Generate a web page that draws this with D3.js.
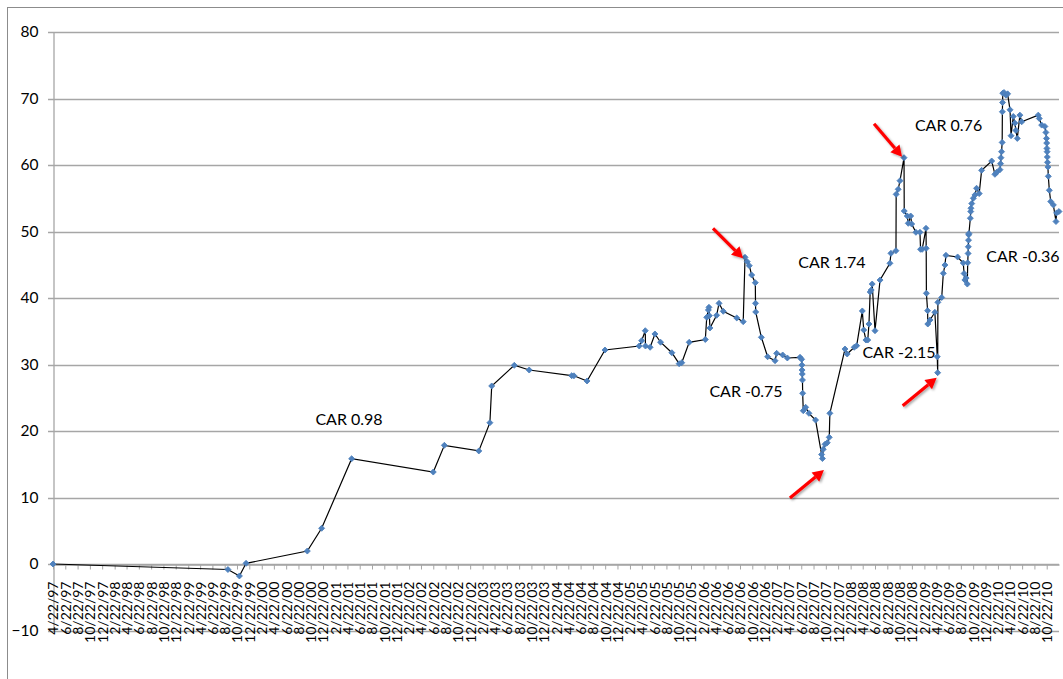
<!DOCTYPE html>
<html><head><meta charset="utf-8">
<script src="https://cdn.jsdelivr.net/npm/d3@7"></script>
<style>body{margin:0;background:#fff;} svg{display:block;}</style>
</head><body>
<svg id="chart" width="1063" height="679"></svg>
<script>
const dates = [
"1997-04-22","1999-09-07","1999-11-03","1999-12-06","2000-10-05","2000-12-15","2001-05-13","2002-06-22","2002-08-16","2003-02-03",
"2003-03-30","2003-04-08","2003-07-29","2003-10-11","2004-05-09","2004-05-20","2004-07-24","2004-10-21","2005-04-09","2005-04-21",
"2005-05-09","2005-05-10","2005-06-02","2005-06-26","2005-07-24","2005-09-18","2005-10-24","2005-11-06","2005-12-13","2006-03-03",
"2006-03-10","2006-03-18","2006-03-21","2006-03-23","2006-03-26","2006-04-28","2006-05-10","2006-05-31","2006-08-06","2006-09-07",
"2006-09-16","2006-09-27","2006-10-07","2006-10-19","2006-11-06","2006-11-07","2006-11-08","2006-12-06","2007-01-06","2007-02-12",
"2007-02-20","2007-03-22","2007-04-14","2007-06-16","2007-06-24","2007-06-25","2007-06-26","2007-06-27","2007-06-28","2007-06-29",
"2007-07-02","2007-07-14","2007-07-30","2007-09-01","2007-10-01","2007-10-05","2007-10-09","2007-10-18","2007-10-29","2007-11-08",
"2007-11-11","2008-01-25","2008-02-05","2008-03-11","2008-03-23","2008-04-20","2008-04-27","2008-05-08","2008-05-17","2008-05-23",
"2008-05-29","2008-06-03","2008-06-08","2008-06-22","2008-07-17","2008-09-04","2008-09-09","2008-10-04","2008-10-05","2008-10-15",
"2008-10-24","2008-11-13","2008-11-14","2008-11-29","2008-12-04","2008-12-16","2008-12-21","2009-01-11","2009-01-31","2009-02-03",
"2009-02-11","2009-03-02","2009-03-03","2009-03-04","2009-03-10","2009-03-11","2009-03-22","2009-04-15","2009-04-27","2009-04-29",
"2009-04-30","2009-05-19","2009-05-27","2009-06-04","2009-06-09","2009-08-06","2009-09-03","2009-09-07","2009-09-11","2009-09-17",
"2009-09-23","2009-09-25","2009-09-27","2009-09-28","2009-09-29","2009-09-30","2009-10-01","2009-10-08","2009-10-10","2009-10-11",
"2009-10-15","2009-10-23","2009-10-31","2009-11-08","2009-11-21","2009-12-03","2010-01-22","2010-02-07","2010-02-16","2010-03-04",
"2010-03-07","2010-03-09","2010-03-12","2010-03-15","2010-03-16","2010-03-17","2010-03-18","2010-03-24","2010-04-03","2010-04-11",
"2010-04-23","2010-04-28","2010-05-09","2010-05-17","2010-05-22","2010-05-29","2010-06-11","2010-06-20","2010-09-10","2010-09-15",
"2010-09-27","2010-10-13","2010-10-18","2010-10-21","2010-10-22","2010-10-23","2010-10-24","2010-10-25","2010-10-26","2010-10-28",
"2010-10-30","2010-11-04","2010-11-11","2010-11-24","2010-12-07","2010-12-10","2010-12-22"
];
const values = [
0,-0.83,-1.8,0.1,1.95,5.37,15.83,13.83,17.85,17.0,
21.25,26.77,29.88,29.17,28.32,28.3,27.52,32.18,32.78,33.58,
35.08,32.78,32.59,34.59,33.35,31.77,30.12,30.27,33.34,33.76,
37.1,38.2,38.6,37.34,35.49,37.4,39.2,38.0,37.0,36.44,
46.12,45.46,44.86,43.46,42.3,39.2,37.9,34.09,31.17,30.57,
31.68,31.43,30.98,31.08,30.78,29.92,29.17,28.57,27.67,25.67,
23.05,23.56,22.66,21.65,16.47,15.86,17.25,18.0,18.24,19.05,
22.66,32.33,31.58,32.59,32.83,38.05,35.19,33.68,33.68,36.09,
40.9,41.2,42.1,35.08,42.7,45.22,46.72,47.11,55.59,56.35,
57.64,61.1,53.08,52.33,51.23,52.33,51.13,49.88,49.88,47.32,
47.32,50.48,47.47,40.71,38.09,36.09,36.69,37.85,31.17,28.77,
39.35,40.08,43.71,44.96,46.42,46.17,45.26,43.68,42.71,43.0,
42.1,45.3,46.7,47.7,48.7,49.5,49.7,52.0,53.0,53.5,
54.2,55.0,55.5,56.5,55.7,59.2,60.6,58.6,58.9,59.3,
60.2,61.1,62.0,63.4,68.0,69.4,70.8,70.9,70.5,70.7,
68.3,64.4,67.3,66.3,65.2,64.0,67.5,66.5,67.5,67.0,
66.0,65.8,64.9,64.0,63.3,62.5,62.0,61.2,60.4,59.7,
58.3,56.2,54.5,54.0,51.5,52.8,53.0
];
const yTicks = [-10, 0, 10, 20, 30, 40, 50, 60, 70, 80];
const xDomain = ["1997-04-22", "2010-12-22"];
// every second month on the 22nd, 4/22/97 .. 10/22/10
const xTickDates = d3.range(82).map(i => new Date(1997, 3 + 2 * i, 22));
const annotations = [
  {text: "CAR 0.98",  date: "2001-04-30", value: 20.9},
  {text: "CAR -0.75", date: "2006-09-21", value: 25.16},
  {text: "CAR 1.74",  date: "2007-11-21", value: 44.5},
  {text: "CAR -2.15", date: "2008-10-19", value: 30.93},
  {text: "CAR 0.76",  date: "2009-06-22", value: 65.1},
  {text: "CAR -0.36", date: "2010-06-26", value: 45.4}
];
// arrows pointing at events: point index, tip offset, tail vector (px)
const arrows = [
  {idx: 40,  tip: [-2, 1],    tail: [-30, -30]},
  {idx: 91,  tip: [-2, -1],   tail: [-28, -33]},
  {idx: 65,  tip: [1.5, 11.5],tail: [-34, 28]},
  {idx: 109, tip: [-1, 5],    tail: [-34, 28]}
];

const parse = d3.timeParse("%Y-%m-%d");
const data = dates.map((d, i) => ({date: parse(d), value: values[i]}));
const svg = d3.select("#chart");
const FONT = "Lato, 'Open Sans', sans-serif";

const x = d3.scaleTime().domain(xDomain.map(parse)).range([53, 1059]);
const y = d3.scaleLinear().domain([-10, 80]).range([630.5, 32]);

// outer chart border
svg.append("rect").attr("x", 7.5).attr("y", 7.5).attr("width", 1100).attr("height", 700)
  .attr("fill", "#fff").attr("stroke", "#8c8c8c").attr("stroke-width", 1);

// gridlines
svg.append("g").selectAll("line").data(yTicks).join("line")
  .attr("x1", 48).attr("x2", 1059)
  .attr("y1", d => Math.round(y(d)) + 0.5).attr("y2", d => Math.round(y(d)) + 0.5)
  .attr("stroke", "#a6a6a6").attr("stroke-width", 1.3);

// y axis
const yAxis = svg.append("g").attr("transform", "translate(53.5,0)")
  .call(d3.axisLeft(y).tickValues(yTicks).tickSize(0).tickPadding(15).tickFormat(d3.format("d")));
yAxis.select(".domain").attr("stroke", "#a6a6a6").attr("stroke-width", 1.3);
yAxis.selectAll("text").attr("font-family", FONT).attr("font-size", 15.5).attr("fill", "#000");

// x axis at value 0
const xAxis = svg.append("g").attr("transform", `translate(0,${Math.round(y(0)) + 0.5})`)
  .call(d3.axisBottom(x).tickValues(xTickDates).tickSize(5).tickSizeOuter(0)
    .tickFormat(d => `${d.getMonth() + 1}/${d.getDate()}/${String(d.getFullYear()).slice(2)}`));
xAxis.select(".domain").attr("stroke", "#a6a6a6").attr("stroke-width", 1.3);
xAxis.selectAll(".tick line").attr("stroke", "#a6a6a6");
xAxis.selectAll("text")
  .attr("font-family", FONT).attr("font-size", 14).attr("fill", "#000")
  .attr("transform", "rotate(-90)")
  .attr("text-anchor", "end").attr("dy", "0.35em").attr("x", -17).attr("y", 0);

// line
svg.append("path").datum(data)
  .attr("fill", "none").attr("stroke", "#000").attr("stroke-width", 1.2)
  .attr("d", d3.line().x(d => x(d.date)).y(d => y(d.value)));

// markers
svg.append("g").selectAll("path").data(data).join("path")
  .attr("transform", d => `translate(${x(d.date)},${y(d.value)}) rotate(45)`)
  .attr("d", d3.symbol().type(d3.symbolSquare).size(18))
  .attr("fill", "#4f81bd").attr("stroke", "#4a7ebb").attr("stroke-width", 0.8);

// annotations
svg.append("g").selectAll("text").data(annotations).join("text")
  .attr("x", d => x(parse(d.date))).attr("y", d => y(d.value))
  .attr("text-anchor", "middle").attr("font-family", FONT).attr("font-size", 16)
  .attr("fill", "#000").text(d => d.text);

// arrows
const defs = svg.append("defs");
defs.append("filter").attr("id", "sh").append("feDropShadow")
  .attr("dx", 1.5).attr("dy", 1.5).attr("stdDeviation", 1).attr("flood-color", "#000").attr("flood-opacity", 0.35);
const ag = svg.append("g").attr("filter", "url(#sh)");
arrows.forEach(a => {
  const p = data[a.idx];
  const tx = x(p.date) + a.tip[0], ty = y(p.value) + a.tip[1];
  const sx = tx + a.tail[0], sy = ty + a.tail[1];
  const ang = Math.atan2(ty - sy, tx - sx);
  const hl = 11, hw = 6;
  const bx = tx - hl * Math.cos(ang), by = ty - hl * Math.sin(ang);
  ag.append("line").attr("x1", sx).attr("y1", sy).attr("x2", bx).attr("y2", by)
    .attr("stroke", "#ff0000").attr("stroke-width", 3.2);
  const px = -Math.sin(ang), py = Math.cos(ang);
  ag.append("path")
    .attr("d", `M${tx},${ty}L${bx + hw * px},${by + hw * py}L${bx - hw * px},${by - hw * py}Z`)
    .attr("fill", "#ff0000");
});
</script>
</body></html>
